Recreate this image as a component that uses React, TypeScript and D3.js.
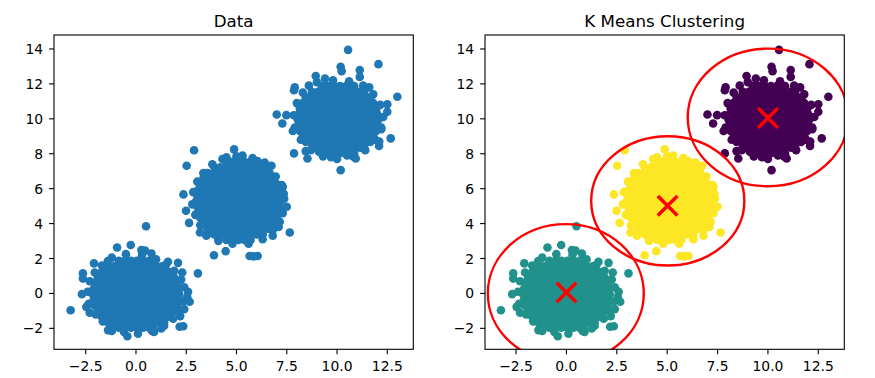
import React from 'react';
import * as d3 from 'd3';

const xTicks = [-2.5, 0, 2.5, 5, 7.5, 10, 12.5];
const yTicks = [-2, 0, 2, 4, 6, 8, 10, 12, 14];
const titles = ['Data', 'K Means Clustering'];
const dataColor = '#1f77b4';
const clusterColors = ['#21918c', '#fde725', '#440154'];

// cluster 0 (around 0,0): dense core rows [y, xs]
const core0: [number, number[]][] = [
  [1.87, [-0.85, -0.55, -0.25, 0.05, 0.35, 0.65, 0.85]],
  [1.55, [-1.4, -1.1, -0.8, -0.5, -0.2, 0.1, 0.4, 0.7, 1.0, 1.3, 1.4]],
  [1.23, [-1.7, -1.45, -1.15, -0.85, -0.55, -0.25, 0.05, 0.35, 0.65, 0.95, 1.25, 1.55, 1.7]],
  [0.91, [-1.9, -1.6, -1.3, -1.0, -0.7, -0.4, -0.1, 0.2, 0.5, 0.8, 1.1, 1.4, 1.7, 1.9]],
  [0.59, [-2.05, -1.75, -1.45, -1.15, -0.85, -0.55, -0.25, 0.05, 0.35, 0.65, 0.95, 1.25, 1.55, 1.85, 2.05]],
  [0.27, [-2.1, -1.8, -1.5, -1.2, -0.9, -0.6, -0.3, 0, 0.3, 0.6, 0.9, 1.2, 1.5, 1.8, 2.1]],
  [-0.05, [-2.15, -1.95, -1.65, -1.35, -1.05, -0.75, -0.45, -0.15, 0.15, 0.45, 0.75, 1.05, 1.35, 1.65, 1.95, 2.15]],
  [-0.37, [-2.1, -1.8, -1.5, -1.2, -0.9, -0.6, -0.3, 0, 0.3, 0.6, 0.9, 1.2, 1.5, 1.8, 2.1]],
  [-0.69, [-2.05, -1.75, -1.45, -1.15, -0.85, -0.55, -0.25, 0.05, 0.35, 0.65, 0.95, 1.25, 1.55, 1.85, 2.05]],
  [-1.01, [-1.9, -1.6, -1.3, -1.0, -0.7, -0.4, -0.1, 0.2, 0.5, 0.8, 1.1, 1.4, 1.7, 1.9]],
  [-1.33, [-1.7, -1.45, -1.15, -0.85, -0.55, -0.25, 0.05, 0.35, 0.65, 0.95, 1.25, 1.55, 1.7]],
  [-1.65, [-1.4, -1.1, -0.8, -0.5, -0.2, 0.1, 0.4, 0.7, 1.0, 1.3, 1.4]],
  [-1.97, [-0.85, -0.55, -0.25, 0.05, 0.35, 0.65, 0.85]],
];
const edge0: [number, number][] = [
  [-1.2, 2.05], [-0.5, 2.25], [0.3, 2.2], [1.0, 1.95], [1.5, 1.65], [1.9, 1.3], [2.25, 0.8], [2.4, 0.35],
  [2.35, -0.45], [2.15, -1.0], [1.85, -1.45], [1.4, -1.85], [0.8, -2.15], [0.1, -2.3], [-0.6, -2.2],
  [-1.15, -1.95], [-1.65, -1.6], [-2.0, -1.2], [-2.35, -0.6], [-2.4, 0.1], [-2.3, 0.7], [-2.05, 1.2], [-1.7, 1.6],
];
const outliers0: [number, number][] = [
  [-3.25, -0.96], [-2.64, 1.15], [-2.64, 0.85], [-2.69, -0.04], [-2.47, -0.77], [-2.09, 1.72],
  [-0.94, 2.63], [-0.26, 2.77], [0.27, 2.48], [0.77, 2.29], [1.59, 1.81], [2.09, 1.75],
  [3.08, 1.15], [2.59, 0.09], [2.55, -0.2], [2.67, -0.48], [2.17, -1.91], [2.35, -1.88],
  [-1.39, -2.1], [-1.2, -2.15], [-0.43, -2.45], [0.9, -2.2], [1.26, -2.0], [0.5, 3.85],
  [-2.3, -1.1], [2.3, 1.2], [-1.4, 1.85], [0.45, 2.45], [2.4, -0.9], [2.2, -1.3],
];

// cluster 1 (around 5,5)
const core1: [number, number[]][] = [
  [7.54, [4.5, 4.8, 5.1, 5.4, 5.7]],
  [7.22, [3.9, 4.2, 4.5, 4.8, 5.1, 5.4, 5.7, 6.0, 6.3]],
  [6.9, [3.55, 3.85, 4.15, 4.45, 4.75, 5.05, 5.35, 5.65, 5.95, 6.25, 6.55, 6.65]],
  [6.58, [3.35, 3.65, 3.95, 4.25, 4.55, 4.85, 5.15, 5.45, 5.75, 6.05, 6.35, 6.65, 6.85]],
  [6.26, [3.2, 3.5, 3.8, 4.1, 4.4, 4.7, 5.0, 5.3, 5.6, 5.9, 6.2, 6.5, 6.8, 7.0]],
  [5.94, [3.1, 3.35, 3.65, 3.95, 4.25, 4.55, 4.85, 5.15, 5.45, 5.75, 6.05, 6.35, 6.65, 6.95, 7.1]],
  [5.62, [3.05, 3.3, 3.6, 3.9, 4.2, 4.5, 4.8, 5.1, 5.4, 5.7, 6.0, 6.3, 6.6, 6.9, 7.15]],
  [5.3, [3.0, 3.25, 3.55, 3.85, 4.15, 4.45, 4.75, 5.05, 5.35, 5.65, 5.95, 6.25, 6.55, 6.85, 7.2]],
  [4.98, [3.05, 3.3, 3.6, 3.9, 4.2, 4.5, 4.8, 5.1, 5.4, 5.7, 6.0, 6.3, 6.6, 6.9, 7.15]],
  [4.66, [3.1, 3.35, 3.65, 3.95, 4.25, 4.55, 4.85, 5.15, 5.45, 5.75, 6.05, 6.35, 6.65, 6.95, 7.1]],
  [4.34, [3.2, 3.5, 3.8, 4.1, 4.4, 4.7, 5.0, 5.3, 5.6, 5.9, 6.2, 6.5, 6.8, 7.0]],
  [4.02, [3.35, 3.65, 3.95, 4.25, 4.55, 4.85, 5.15, 5.45, 5.75, 6.05, 6.35, 6.65, 6.85]],
  [3.7, [3.55, 3.85, 4.15, 4.45, 4.75, 5.05, 5.35, 5.65, 5.95, 6.25, 6.55, 6.65]],
  [3.38, [3.9, 4.2, 4.5, 4.8, 5.1, 5.4, 5.7, 6.0, 6.3]],
  [3.06, [4.5, 4.8, 5.1, 5.4, 5.7]],
];
const edge1: [number, number][] = [
  [4.3, 7.7], [5.0, 7.85], [5.8, 7.75], [6.5, 7.2], [6.95, 6.7], [7.25, 6.2], [7.35, 5.7], [7.3, 4.6],
  [7.15, 4.1], [6.8, 3.6], [6.3, 3.1], [5.6, 2.85], [4.8, 2.85], [4.1, 3.1], [3.6, 3.45], [3.2, 3.9],
  [2.95, 4.5], [2.8, 5.1], [2.85, 5.8], [3.05, 6.4], [3.35, 6.9], [3.8, 7.4],
];
const outliers1: [number, number][] = [
  [2.89, 8.2], [4.88, 8.25], [2.52, 7.31], [2.36, 5.67], [2.49, 4.73], [2.64, 4.04],
  [3.18, 3.49], [3.88, 2.19], [4.46, 2.42], [5.65, 2.14], [6.05, 2.14], [5.85, 2.12],
  [7.65, 3.49], [7.37, 5.42], [7.5, 4.96], [6.74, 7.31], [6.04, 7.58], [6.4, 7.5],
  [5.3, 7.9], [3.3, 6.2], [7.3, 6.1], [3.5, 3.3], [6.8, 3.3], [4.5, 7.8], [4.1, 3.0], [7.1, 3.8],
];

// cluster 2 (around 10,10)
const core2: [number, number[]][] = [
  [11.87, [9.25, 9.55, 9.85, 10.15, 10.45, 10.75, 10.85]],
  [11.55, [8.75, 9.05, 9.35, 9.65, 9.95, 10.25, 10.55, 10.85, 11.15, 11.35]],
  [11.23, [8.45, 8.75, 9.05, 9.35, 9.65, 9.95, 10.25, 10.55, 10.85, 11.15, 11.45, 11.65]],
  [10.91, [8.3, 8.6, 8.9, 9.2, 9.5, 9.8, 10.1, 10.4, 10.7, 11.0, 11.3, 11.6, 11.8]],
  [10.59, [8.15, 8.45, 8.75, 9.05, 9.35, 9.65, 9.95, 10.25, 10.55, 10.85, 11.15, 11.45, 11.75, 11.95]],
  [10.27, [8.1, 8.35, 8.65, 8.95, 9.25, 9.55, 9.85, 10.15, 10.45, 10.75, 11.05, 11.35, 11.65, 11.95, 12.0]],
  [9.95, [8.05, 8.3, 8.6, 8.9, 9.2, 9.5, 9.8, 10.1, 10.4, 10.7, 11.0, 11.3, 11.6, 11.9, 12.05]],
  [9.63, [8.1, 8.35, 8.65, 8.95, 9.25, 9.55, 9.85, 10.15, 10.45, 10.75, 11.05, 11.35, 11.65, 11.95, 12.0]],
  [9.31, [8.15, 8.45, 8.75, 9.05, 9.35, 9.65, 9.95, 10.25, 10.55, 10.85, 11.15, 11.45, 11.75, 11.95]],
  [8.99, [8.3, 8.6, 8.9, 9.2, 9.5, 9.8, 10.1, 10.4, 10.7, 11.0, 11.3, 11.6, 11.8]],
  [8.67, [8.45, 8.75, 9.05, 9.35, 9.65, 9.95, 10.25, 10.55, 10.85, 11.15, 11.45, 11.65]],
  [8.35, [8.75, 9.05, 9.35, 9.65, 9.95, 10.25, 10.55, 10.85, 11.15, 11.35]],
  [8.03, [9.25, 9.55, 9.85, 10.15, 10.45, 10.75, 10.85]],
];
const edge2: [number, number][] = [
  [9.0, 12.1], [9.8, 12.2], [10.6, 12.15], [11.3, 11.9], [11.8, 11.4], [12.15, 10.8], [12.3, 10.1],
  [12.2, 9.4], [11.9, 8.8], [11.4, 8.2], [10.8, 7.85], [10.0, 7.7], [9.3, 7.85], [8.7, 8.2], [8.2, 8.8],
  [7.9, 9.5], [7.85, 10.2], [8.0, 10.9], [8.3, 11.5], [8.6, 11.9],
];
const outliers2: [number, number][] = [
  [10.55, 13.95], [10.18, 12.98], [10.23, 12.73], [11.13, 12.79], [11.13, 12.4], [12.06, 13.13],
  [13.0, 11.26], [12.5, 10.83], [12.5, 10.4], [12.67, 8.88], [12.09, 8.45], [12.1, 8.7],
  [7.0, 10.25], [7.48, 10.21], [7.28, 9.73], [7.86, 8.02], [8.44, 8.15], [8.53, 7.73],
  [9.1, 8.11], [10.18, 7.06], [10.93, 7.73], [7.86, 11.64], [7.9, 11.8], [8.94, 12.45],
  [9.4, 12.3], [11.6, 11.8], [12.2, 9.5], [7.8, 9.3], [11.8, 9.0], [9.7, 7.8], [10.5, 7.9],
];

const centroids: [number, number][] = [[0.0, 0.05], [5.02, 5.02], [10.0, 10.05]];
const ringCenters: [number, number][] = [[-0.03, 0.0], [5.03, 5.3], [10.0, 10.08]];
const ringRadiiX = [3.87, 3.8, 3.98];
const ringRadiiY = [3.97, 3.7, 3.94];

type Pt = { x: number; y: number; c: number };

function buildPoints(): Pt[] {
  const pts: Pt[] = [];
  const cores = [core0, core1, core2];
  const edges = [edge0, edge1, edge2];
  const outs = [outliers0, outliers1, outliers2];
  cores.forEach((rows, c) => {
    rows.forEach(([y, xs]) => xs.forEach((x) => pts.push({ x, y, c })));
    edges[c].forEach(([x, y]) => pts.push({ x, y, c }));
    outs[c].forEach(([x, y]) => pts.push({ x, y, c }));
  });
  return pts;
}

const FONT = 'DejaVu Sans, sans-serif';

function Panel({ idx, x0, x1, domainX, points }: { idx: number; x0: number; x1: number; domainX: [number, number]; points: Pt[] }) {
  const top = 35;
  const bottom = 349.3;
  const xs = d3.scaleLinear().domain(domainX).range([x0, x1]);
  const ys = d3.scaleLinear().domain([-3.2, 14.8]).range([bottom, top]);
  const clipId = `clip${idx}`;
  const fmtX = (v: number) => d3.format('.1f')(v).replace('-', '\u2212');
  const fmtY = (v: number) => String(v).replace('-', '\u2212');
  return (
    <g>
      <defs>
        <clipPath id={clipId}>
          <rect x={x0} y={top} width={x1 - x0} height={bottom - top} />
        </clipPath>
      </defs>
      <g clipPath={`url(#${clipId})`}>
        {points.map((p, i) => (
          <circle key={i} cx={xs(p.x)} cy={ys(p.y)} r={4.3} fill={idx === 0 ? dataColor : clusterColors[p.c]} />
        ))}
        {idx === 1 &&
          ringCenters.map((c, i) => (
            <ellipse
              key={'r' + i}
              cx={xs(c[0])}
              cy={ys(c[1])}
              rx={xs(c[0] + ringRadiiX[i]) - xs(c[0])}
              ry={ys(c[1]) - ys(c[1] + ringRadiiY[i])}
              fill="none"
              stroke="#ff0000"
              strokeWidth={2.4}
            />
          ))}
        {idx === 1 &&
          centroids.map((c, i) => {
            const cx = xs(c[0]);
            const cy = ys(c[1]);
            const h = 9.8;
            return (
              <g key={'x' + i} stroke="#ff0000" strokeWidth={3.5}>
                <line x1={cx - h} y1={cy - h} x2={cx + h} y2={cy + h} />
                <line x1={cx - h} y1={cy + h} x2={cx + h} y2={cy - h} />
              </g>
            );
          })}
      </g>
      <rect x={x0} y={top} width={x1 - x0} height={bottom - top} fill="none" stroke="#000" strokeWidth={1.1} />
      {xTicks.map((t) => (
        <g key={'xt' + t}>
          <line x1={xs(t)} x2={xs(t)} y1={bottom} y2={bottom + 4.9} stroke="#000" strokeWidth={1.1} />
          <text x={xs(t)} y={370.7} textAnchor="middle" fontSize={13.9} fontFamily={FONT} fill="#000">
            {fmtX(t)}
          </text>
        </g>
      ))}
      {yTicks.map((t) => (
        <g key={'yt' + t}>
          <line x1={x0 - 4.9} x2={x0} y1={ys(t)} y2={ys(t)} stroke="#000" strokeWidth={1.1} />
          <text x={x0 - 10.8} y={ys(t)} dy="0.36em" textAnchor="end" fontSize={13.9} fontFamily={FONT} fill="#000">
            {fmtY(t)}
          </text>
        </g>
      ))}
      <text x={(x0 + x1) / 2} y={26.8} textAnchor="middle" fontSize={16.7} fontFamily={FONT} fill="#000">
        {titles[idx]}
      </text>
    </g>
  );
}

export default function App() {
  const points = buildPoints();
  return (
    <svg width={875} height={378} style={{ position: 'absolute', left: 0, top: 0, background: '#fff' }}>
      <rect x={0} y={0} width={875} height={378} fill="#fff" />
      <Panel idx={0} x0={54} x1={413.3} domainX={[-4.077, 13.793]} points={points} />
      <Panel idx={1} x0={485} x1={844.3} domainX={[-4.04, 13.79]} points={points} />
    </svg>
  );
}
